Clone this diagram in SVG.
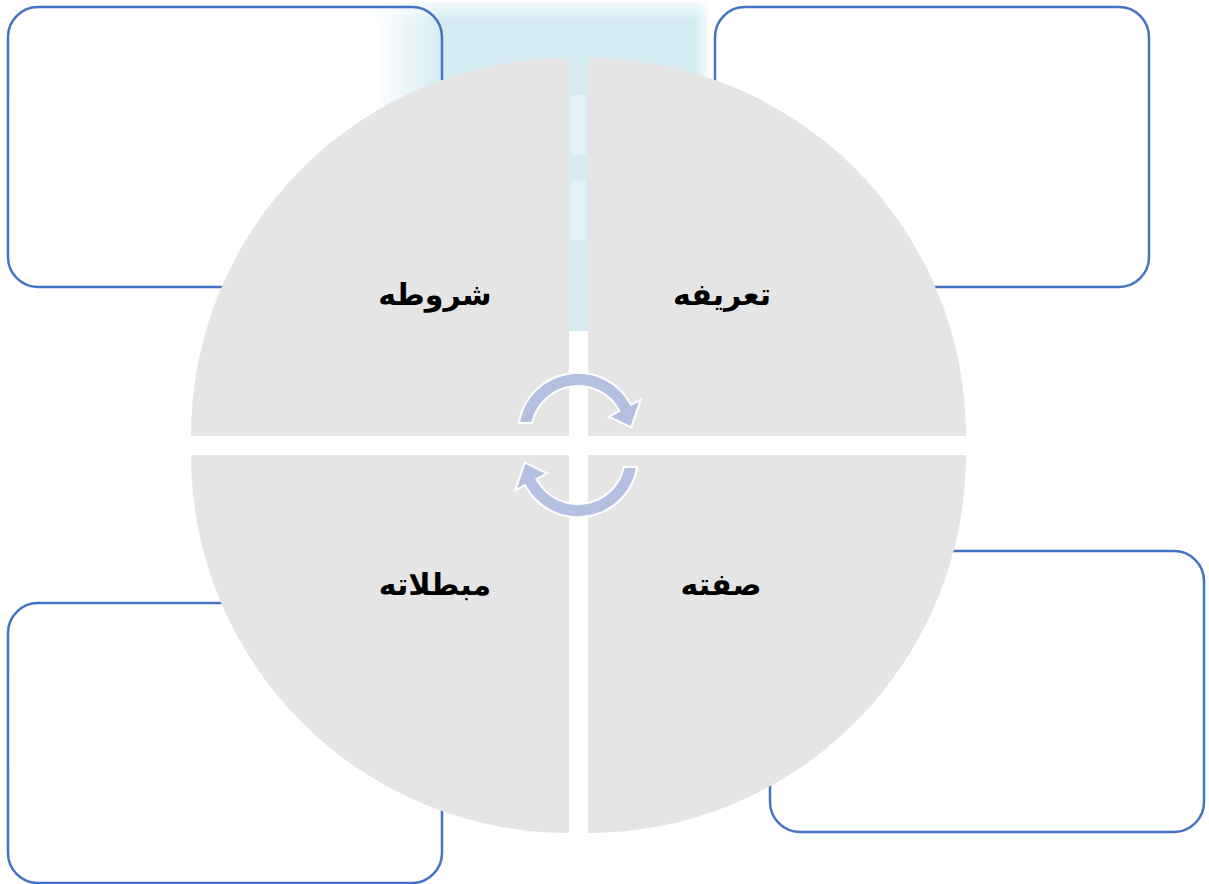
<svg xmlns="http://www.w3.org/2000/svg" width="1209" height="884" viewBox="0 0 1209 884">
  <defs>
    <linearGradient id="bgH" x1="372" y1="0" x2="708" y2="0" gradientUnits="userSpaceOnUse">
      <stop offset="0" stop-color="#d5ecf3" stop-opacity="0"/>
      <stop offset="0.22" stop-color="#d5ecf3" stop-opacity="1"/>
      <stop offset="0.96" stop-color="#d5ecf3" stop-opacity="1"/>
      <stop offset="1" stop-color="#d5ecf3" stop-opacity="0.3"/>
    </linearGradient>
    <linearGradient id="bgV" x1="0" y1="0" x2="0" y2="20" gradientUnits="userSpaceOnUse">
      <stop offset="0" stop-color="#ffffff" stop-opacity="0.8"/>
      <stop offset="1" stop-color="#ffffff" stop-opacity="0"/>
    </linearGradient>
  </defs>
  <style>
    .box { fill: none; stroke: #4472c4; stroke-width: 2.5; }
    .quad { fill: #e5e5e5; }
    .arrow { fill: #b3c0e0; stroke: #ffffff; stroke-width: 2; }
    .label { font-family: "DejaVu Sans", "Noto Sans", sans-serif; font-weight: bold; font-size: 30px; fill: #000000; text-anchor: middle; }
  </style>
  <rect x="0" y="0" width="1209" height="884" fill="#ffffff"/>

  <g id="background">
    <rect x="372" y="2" width="336" height="329" fill="url(#bgH)"/>
    <rect x="372" y="2" width="336" height="20" fill="url(#bgV)"/>
    <rect x="571" y="95" width="15" height="60" fill="#ffffff" opacity="0.35"/>
    <rect x="571" y="180" width="15" height="60" fill="#ffffff" opacity="0.3"/>
  </g>

  <g id="box-top-left"><rect class="box" x="8" y="7" width="434" height="280" rx="30"/></g>
  <g id="box-top-right"><rect class="box" x="715" y="7" width="434" height="280" rx="30"/></g>
  <g id="box-bottom-left"><rect class="box" x="8" y="603" width="434" height="280" rx="30"/></g>
  <g id="box-bottom-right"><rect class="box" x="770" y="551" width="434" height="281" rx="30"/></g>

  <g id="quad-top-left">
    <path class="quad" d="M569,436 L569,58 A378,378 0 0 0 191,436 Z"/>
    <text class="label" x="435" y="305">شروطه</text>
  </g>
  <g id="quad-top-right">
    <path class="quad" d="M588,436 L966,436 A378,378 0 0 0 588,58 Z"/>
    <text class="label" x="722" y="305">تعريفه</text>
  </g>
  <g id="quad-bottom-left">
    <path class="quad" d="M569,455 L191,455 A378,378 0 0 0 569,833 Z"/>
    <text class="label" x="435" y="595">مبطلاته</text>
  </g>
  <g id="quad-bottom-right">
    <path class="quad" d="M588,455 L588,833 A378,378 0 0 0 966,455 Z"/>
    <text class="label" x="721" y="595">صفته</text>
  </g>

  <g id="connectors">
    <path class="arrow" d="M518.8,423 A60,60 0 0 1 631,404.8 L640.7,399.7 L631.2,427.4 L608.9,416.6 L619.5,410.9 A47,47 0 0 0 532.1,423 Z"/>
    <path class="arrow" transform="rotate(180 578 445)" d="M518.8,423 A60,60 0 0 1 631,404.8 L640.7,399.7 L631.2,427.4 L608.9,416.6 L619.5,410.9 A47,47 0 0 0 532.1,423 Z"/>
  </g>
</svg>
